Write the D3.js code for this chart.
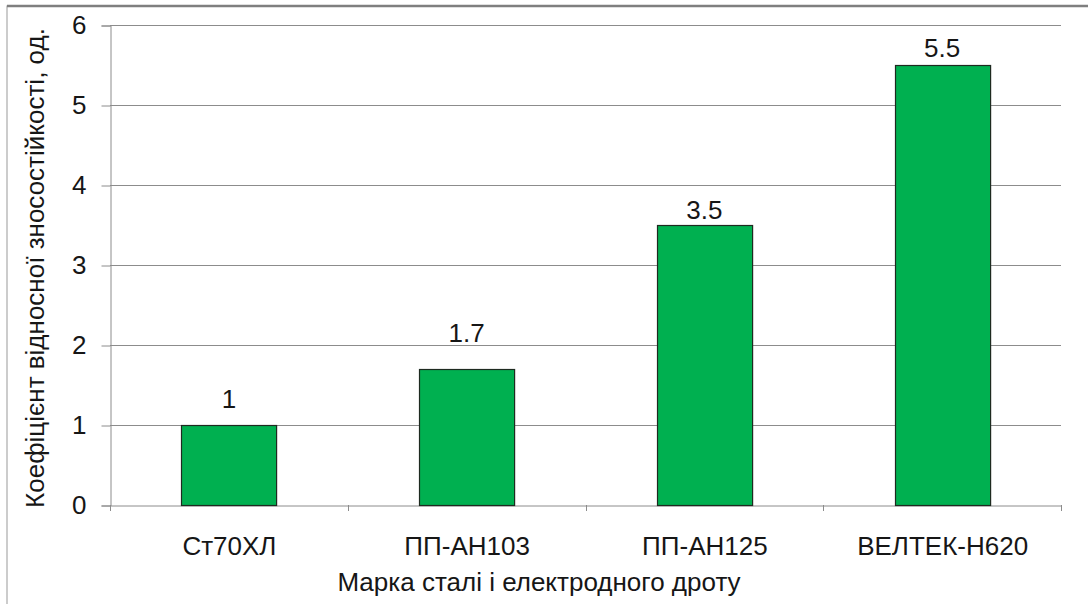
<!DOCTYPE html>
<html>
<head>
<meta charset="utf-8">
<script src="https://cdn.jsdelivr.net/npm/d3@7"></script>
<style>
  html, body { margin: 0; padding: 0; background: #fff; }
  svg { display: block; font-family: "Liberation Sans", Arial, sans-serif; }
</style>
</head>
<body>
<svg id="chart" width="1088" height="604"></svg>
<script>
const categories = ["Ст70ХЛ", "ПП-АН103", "ПП-АН125", "ВЕЛТЕК-Н620"];
const values = [1, 1.7, 3.5, 5.5];
const valueLabels = ["1", "1.7", "3.5", "5.5"];
const yTicks = [0, 1, 2, 3, 4, 5, 6];
const yTitle = "Коефіцієнт відносної зносостійкості, од.";
const xTitle = "Марка сталі і електродного дроту";

(function () {
const svg = d3.select("#chart");
const mLeft = 110, mRight = 1061, mTop = 25, mBottom = 505;
const FS = 26;
const txt = "#161616";

// outer frame (partially cut by the viewport, as in the reference)
svg.append("rect").attr("x", 7).attr("y", 6).attr("width", 1200).attr("height", 700)
  .attr("fill", "none").attr("stroke", "#9a9a9a").attr("stroke-width", 1);
svg.append("line").attr("x1", 7).attr("x2", 1088).attr("y1", 6).attr("y2", 6)
  .attr("stroke", "#7f7f7f").attr("stroke-width", 2.5);

const x = d3.scaleBand().domain(categories).range([mLeft, mRight]).paddingInner(0.6).paddingOuter(0.3);
const xCat = d3.scaleBand().domain(categories).range([mLeft, mRight]);
const y = d3.scaleLinear().domain([0, 6]).range([mBottom, mTop]);

// gridlines
svg.append("g").selectAll("line").data(yTicks.filter(d => d > 0)).join("line")
  .attr("x1", mLeft).attr("x2", mRight)
  .attr("y1", d => Math.round(y(d)) + 0.5).attr("y2", d => Math.round(y(d)) + 0.5)
  .attr("stroke", "#8c8c8c").attr("stroke-width", 1);

// y axis
const yAxis = svg.append("g").attr("transform", `translate(${mLeft + 0.5},0.5)`)
  .call(d3.axisLeft(y).tickValues(yTicks).tickSize(9).tickPadding(15).tickFormat(d3.format("d")));
yAxis.select(".domain").attr("stroke", "#8c8c8c");
yAxis.selectAll(".tick line").attr("stroke", "#8c8c8c");
yAxis.selectAll("text").attr("font-size", FS).attr("fill", txt)
  .attr("font-family", "Liberation Sans, Arial, sans-serif");

// x axis
const xAxis = svg.append("g").attr("transform", `translate(0.5,${mBottom + 0.5})`)
  .call(d3.axisBottom(xCat).tickSize(0).tickPadding(31));
xAxis.select(".domain").attr("stroke", "#8c8c8c");
xAxis.selectAll("text").attr("font-size", FS).attr("fill", txt)
  .attr("font-family", "Liberation Sans, Arial, sans-serif");
// category boundary ticks
const bounds = categories.map(c => xCat(c)).concat([mRight]);
svg.append("g").selectAll("line").data(bounds).join("line")
  .attr("x1", d => Math.round(d) + 0.5).attr("x2", d => Math.round(d) + 0.5)
  .attr("y1", mBottom).attr("y2", mBottom + 6)
  .attr("stroke", "#8c8c8c");

// bars
svg.append("g").selectAll("rect").data(values).join("rect")
  .attr("x", (d, i) => Math.round(x(categories[i])) + 0.5)
  .attr("y", d => Math.round(y(d)) + 0.5)
  .attr("width", x.bandwidth())
  .attr("height", d => Math.round(y(0)) - Math.round(y(d)))
  .attr("fill", "#00b050").attr("stroke", "#1e2a20").attr("stroke-width", 1.2);

// value labels (placed like the reference, above each bar)
const labelGap = [17, 27, 6, 8];
svg.append("g").selectAll("text").data(values).join("text")
  .attr("x", (d, i) => x(categories[i]) + x.bandwidth() / 2)
  .attr("y", (d, i) => y(d) - labelGap[i])
  .attr("text-anchor", "middle").attr("font-size", FS).attr("fill", txt)
  .text((d, i) => valueLabels[i]);

// axis titles
svg.append("text").attr("x", 539).attr("y", 591).attr("text-anchor", "middle")
  .attr("font-size", FS).attr("fill", txt).text(xTitle);
svg.append("text").attr("transform", `translate(44,268) rotate(-90)`)
  .attr("text-anchor", "middle").attr("font-size", FS).attr("fill", txt).text(yTitle);
})();
</script>
</body>
</html>
